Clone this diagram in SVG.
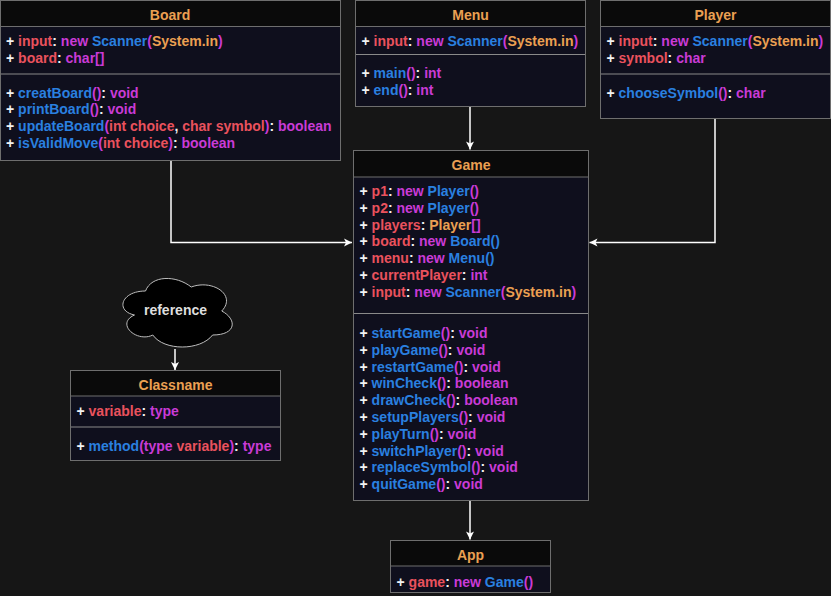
<svg xmlns="http://www.w3.org/2000/svg" width="831" height="596" viewBox="0 0 831 596">
<defs>
<style>
text{font-family:"Liberation Sans",Arial,sans-serif;font-size:14px;font-weight:bold;fill:#f2f2f2}
.t{fill:#eba052;text-anchor:middle}
.r{fill:#ea525d}
.m{fill:#c93bd6}
.b{fill:#2a80e0}
.o{fill:#eba052}
.hd{fill:#0a0a0a;stroke:#6e6e6e;stroke-width:1}
.bd{fill:#0f0f1d;stroke:#6e6e6e;stroke-width:1}
.sep{stroke:#8a8a8a;stroke-width:1.2}
.con{fill:none;stroke:#ffffff;stroke-width:1.5}
</style>
<marker id="ar" markerWidth="10" markerHeight="10" refX="9" refY="5" orient="auto" markerUnits="userSpaceOnUse">
<path d="M9,5 L1,1 L3,5 L1,9 Z" fill="#ffffff"/>
</marker>
</defs>
<rect width="831" height="596" fill="#161616"/>

<g id="connectors">
<path class="con" d="M171,160.5 V242.5 H352" marker-end="url(#ar)"/>
<path class="con" d="M470,106.5 V149.5" marker-end="url(#ar)"/>
<path class="con" d="M715,118.5 V242.5 H589.5" marker-end="url(#ar)"/>
<path class="con" d="M470,500.5 V539.5" marker-end="url(#ar)"/>
<path class="con" d="M175,349 V370" marker-end="url(#ar)"/>
</g>

<g id="board">
<rect class="bd" x="0.5" y="0.5" width="340" height="160"/>
<rect class="hd" x="0.5" y="0.5" width="340" height="26"/>
<text class="t" x="170" y="20">Board</text>
<line class="sep" x1="1" y1="74" x2="340" y2="74"/>
<text x="6" y="46">+ <tspan class="r">input</tspan>: <tspan class="m">new</tspan> <tspan class="b">Scanner</tspan><tspan class="m">(</tspan><tspan class="o">System.in</tspan><tspan class="m">)</tspan></text>
<text x="6" y="63">+ <tspan class="r">board</tspan>: <tspan class="m">char[]</tspan></text>
<text x="6" y="97.5">+ <tspan class="b">creatBoard</tspan><tspan class="m">()</tspan>: <tspan class="m">void</tspan></text>
<text x="6" y="114.3">+ <tspan class="b">printBoard</tspan><tspan class="m">()</tspan>: <tspan class="m">void</tspan></text>
<text x="6" y="131.1">+ <tspan class="b">updateBoard</tspan><tspan class="m">(</tspan><tspan class="r">int choice</tspan>, <tspan class="r">char symbol</tspan><tspan class="m">)</tspan>: <tspan class="m">boolean</tspan></text>
<text x="6" y="147.9">+ <tspan class="b">isValidMove</tspan><tspan class="m">(</tspan><tspan class="r">int choice</tspan><tspan class="m">)</tspan>: <tspan class="m">boolean</tspan></text>
</g>

<g id="menu">
<rect class="bd" x="355.5" y="0.5" width="230" height="106"/>
<rect class="hd" x="355.5" y="0.5" width="230" height="26"/>
<text class="t" x="470.5" y="20">Menu</text>
<line class="sep" x1="356" y1="54.5" x2="585" y2="54.5"/>
<text x="361.5" y="46">+ <tspan class="r">input</tspan>: <tspan class="m">new</tspan> <tspan class="b">Scanner</tspan><tspan class="m">(</tspan><tspan class="o">System.in</tspan><tspan class="m">)</tspan></text>
<text x="361.5" y="77.7">+ <tspan class="b">main</tspan><tspan class="m">()</tspan>: <tspan class="m">int</tspan></text>
<text x="361.5" y="94.5">+ <tspan class="b">end</tspan><tspan class="m">()</tspan>: <tspan class="m">int</tspan></text>
</g>

<g id="player">
<rect class="bd" x="600.5" y="0.5" width="230" height="118"/>
<rect class="hd" x="600.5" y="0.5" width="230" height="26"/>
<text class="t" x="715.5" y="20">Player</text>
<line class="sep" x1="601" y1="74" x2="830" y2="74"/>
<text x="606.5" y="46">+ <tspan class="r">input</tspan>: <tspan class="m">new</tspan> <tspan class="b">Scanner</tspan><tspan class="m">(</tspan><tspan class="o">System.in</tspan><tspan class="m">)</tspan></text>
<text x="606.5" y="63">+ <tspan class="r">symbol</tspan>: <tspan class="m">char</tspan></text>
<text x="606.5" y="97.5">+ <tspan class="b">chooseSymbol</tspan><tspan class="m">()</tspan>: <tspan class="m">char</tspan></text>
</g>

<g id="game">
<rect class="bd" x="353.5" y="150.5" width="235" height="350"/>
<rect class="hd" x="353.5" y="150.5" width="235" height="26.5"/>
<text class="t" x="471" y="170">Game</text>
<line class="sep" x1="354" y1="313.5" x2="588" y2="313.5"/>
<text x="359.5" y="196">+ <tspan class="r">p1</tspan>: <tspan class="m">new</tspan> <tspan class="b">Player</tspan><tspan class="m">()</tspan></text>
<text x="359.5" y="212.8">+ <tspan class="r">p2</tspan>: <tspan class="m">new</tspan> <tspan class="b">Player</tspan><tspan class="m">()</tspan></text>
<text x="359.5" y="229.6">+ <tspan class="r">players</tspan>: <tspan class="o">Player</tspan><tspan class="m">[]</tspan></text>
<text x="359.5" y="246.4">+ <tspan class="r">board</tspan>: <tspan class="m">new</tspan> <tspan class="b">Board()</tspan></text>
<text x="359.5" y="263.2">+ <tspan class="r">menu</tspan>: <tspan class="m">new</tspan> <tspan class="b">Menu()</tspan></text>
<text x="359.5" y="280">+ <tspan class="r">currentPlayer</tspan>: <tspan class="m">int</tspan></text>
<text x="359.5" y="296.8">+ <tspan class="r">input</tspan>: <tspan class="m">new</tspan> <tspan class="b">Scanner</tspan><tspan class="m">(</tspan><tspan class="o">System.in</tspan><tspan class="m">)</tspan></text>
<text x="359.5" y="338">+ <tspan class="b">startGame</tspan><tspan class="m">()</tspan>: <tspan class="m">void</tspan></text>
<text x="359.5" y="354.8">+ <tspan class="b">playGame</tspan><tspan class="m">()</tspan>: <tspan class="m">void</tspan></text>
<text x="359.5" y="371.6">+ <tspan class="b">restartGame</tspan><tspan class="m">()</tspan>: <tspan class="m">void</tspan></text>
<text x="359.5" y="388.4">+ <tspan class="b">winCheck</tspan><tspan class="m">()</tspan>: <tspan class="m">boolean</tspan></text>
<text x="359.5" y="405.2">+ <tspan class="b">drawCheck</tspan><tspan class="m">()</tspan>: <tspan class="m">boolean</tspan></text>
<text x="359.5" y="422">+ <tspan class="b">setupPlayers</tspan><tspan class="m">()</tspan>: <tspan class="m">void</tspan></text>
<text x="359.5" y="438.8">+ <tspan class="b">playTurn</tspan><tspan class="m">()</tspan>: <tspan class="m">void</tspan></text>
<text x="359.5" y="455.6">+ <tspan class="b">switchPlayer</tspan><tspan class="m">()</tspan>: <tspan class="m">void</tspan></text>
<text x="359.5" y="472.4">+ <tspan class="b">replaceSymbol</tspan><tspan class="m">()</tspan>: <tspan class="m">void</tspan></text>
<text x="359.5" y="489">+ <tspan class="b">quitGame</tspan><tspan class="m">()</tspan>: <tspan class="m">void</tspan></text>
</g>

<g id="reference">
<path d="M145.5,291 C121.1,291 115,311 134.5,315 C115,323.8 137,343 152.8,335 C163.8,351 200.4,351 212.6,335 C237,335 237,319 221.75,311 C237,295 212.6,279 191.25,287 C176,275 151.6,275 145.5,291 Z" fill="#000000" stroke="#bdbdbd" stroke-width="1"/>
<text x="175.5" y="315" text-anchor="middle" style="fill:#dedede">reference</text>
</g>

<g id="classname">
<rect class="bd" x="70.5" y="370.5" width="210" height="90"/>
<rect class="hd" x="70.5" y="370.5" width="210" height="25.5"/>
<text class="t" x="175.5" y="390">Classname</text>
<line class="sep" x1="71" y1="427" x2="280" y2="427"/>
<text x="76.5" y="416">+ <tspan class="r">variable</tspan>: <tspan class="m">type</tspan></text>
<text x="76.5" y="450.5">+ <tspan class="b">method</tspan><tspan class="m">(type </tspan><tspan class="r">variable</tspan><tspan class="m">)</tspan>: <tspan class="m">type</tspan></text>
</g>

<g id="app">
<rect class="bd" x="390.5" y="540.5" width="160" height="52"/>
<rect class="hd" x="390.5" y="540.5" width="160" height="25.5"/>
<text class="t" x="470.5" y="560">App</text>
<text x="396.5" y="586.5">+ <tspan class="r">game</tspan>: <tspan class="m">new</tspan> <tspan class="b">Game</tspan><tspan class="m">()</tspan></text>
</g>
</svg>
